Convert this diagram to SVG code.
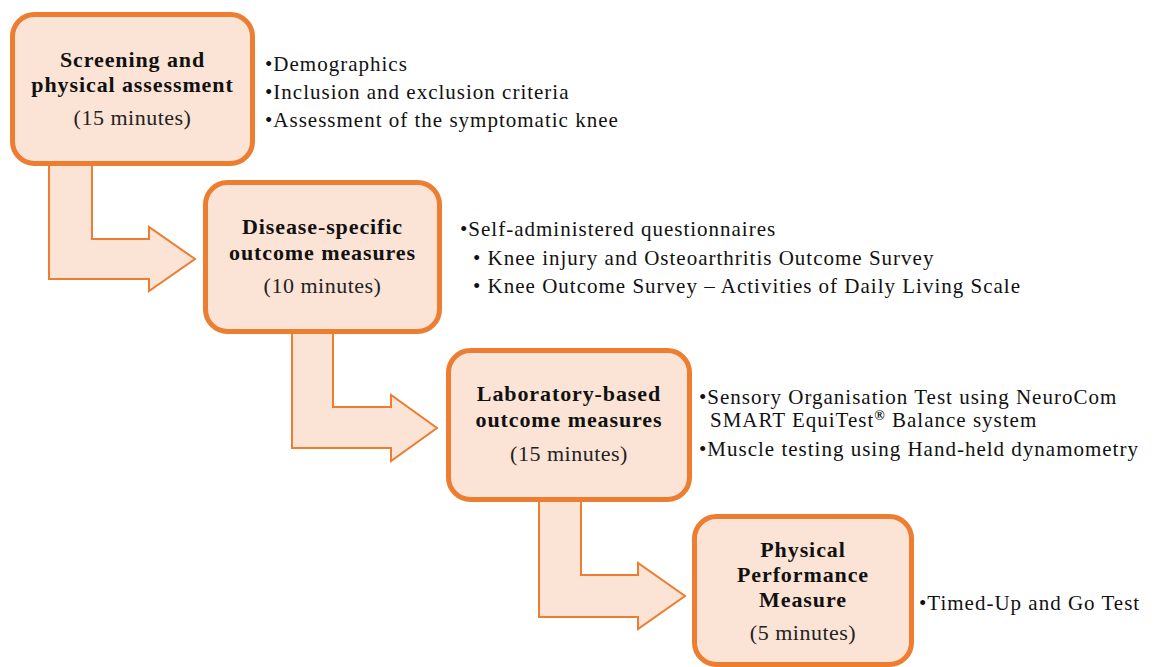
<svg xmlns="http://www.w3.org/2000/svg" width="1164" height="667" viewBox="0 0 1164 667">
  <style>
    .box { fill: #FBE4D5; stroke: #ED7D31; stroke-width: 5; }
    .arrow { fill: #FBE4D5; stroke: #ED7D31; stroke-width: 2; stroke-linejoin: miter; }
    .title { font-family: "Liberation Serif", "Times New Roman", serif; font-size: 22px; font-weight: bold; letter-spacing: 0.9px; fill: #111; text-anchor: middle; }
    .time { font-family: "Liberation Serif", "Times New Roman", serif; font-size: 22px; letter-spacing: 0.5px; fill: #222; text-anchor: middle; }
    .item { font-family: "Liberation Serif", "Times New Roman", serif; font-size: 21px; letter-spacing: 1px; fill: #111; }
  </style>
  <rect width="1164" height="667" fill="#ffffff"/>

  <!-- bent arrows leading from one stage to the next -->
  <g id="connectors">
    <polygon class="arrow" points="49,150 92,150 92,239 149,239 149,227 195,259 149,291 149,279 49,279"/>
    <polygon class="arrow" points="292,318 333,318 333,407 391,407 391,395 437,428 391,461 391,448 292,448"/>
    <polygon class="arrow" points="539,486 581,486 581,575 638,575 638,563 685,596 638,629 638,617 539,617"/>
  </g>

  <g id="stage-screening">
    <rect class="box" x="12.5" y="14.5" width="240" height="149" rx="22"/>
    <text class="title" x="132.5" y="67">Screening and</text>
    <text class="title" x="132.5" y="92">physical assessment</text>
    <text class="time" x="132.5" y="125">(15 minutes)</text>
  </g>
  <g id="items-screening">
    <text class="item" x="265" y="71">•Demographics</text>
    <text class="item" x="265" y="99">•Inclusion and exclusion criteria</text>
    <text class="item" x="265" y="127">•Assessment of the symptomatic knee</text>
  </g>

  <g id="stage-disease">
    <rect class="box" x="205.5" y="182.5" width="234" height="149" rx="22"/>
    <text class="title" x="322.5" y="234">Disease-specific</text>
    <text class="title" x="322.5" y="260">outcome measures</text>
    <text class="time" x="322.5" y="293">(10 minutes)</text>
  </g>
  <g id="items-disease">
    <text class="item" x="460" y="236">•Self-administered questionnaires</text>
    <text class="item" x="473" y="265">• Knee injury and Osteoarthritis Outcome Survey</text>
    <text class="item" x="473" y="293">• Knee Outcome Survey – Activities of Daily Living Scale</text>
  </g>

  <g id="stage-laboratory">
    <rect class="box" x="448.5" y="350.5" width="241" height="149" rx="22"/>
    <text class="title" x="569" y="401">Laboratory-based</text>
    <text class="title" x="569" y="427">outcome measures</text>
    <text class="time" x="569" y="461">(15 minutes)</text>
  </g>
  <g id="items-laboratory">
    <text class="item" x="699" y="404">•Sensory Organisation Test using NeuroCom</text>
    <text class="item" x="710" y="427">SMART EquiTest<tspan font-weight="bold" font-size="14" dy="-7">®</tspan><tspan dy="7"> Balance system</tspan></text>
    <text class="item" x="699" y="456">•Muscle testing using Hand-held dynamometry</text>
  </g>

  <g id="stage-performance">
    <rect class="box" x="694.5" y="516.5" width="217" height="148" rx="22"/>
    <text class="title" x="803" y="557">Physical</text>
    <text class="title" x="803" y="582">Performance</text>
    <text class="title" x="803" y="607">Measure</text>
    <text class="time" x="803" y="640">(5 minutes)</text>
  </g>
  <g id="items-performance">
    <text class="item" x="919" y="610">•Timed-Up and Go Test</text>
  </g>
</svg>
